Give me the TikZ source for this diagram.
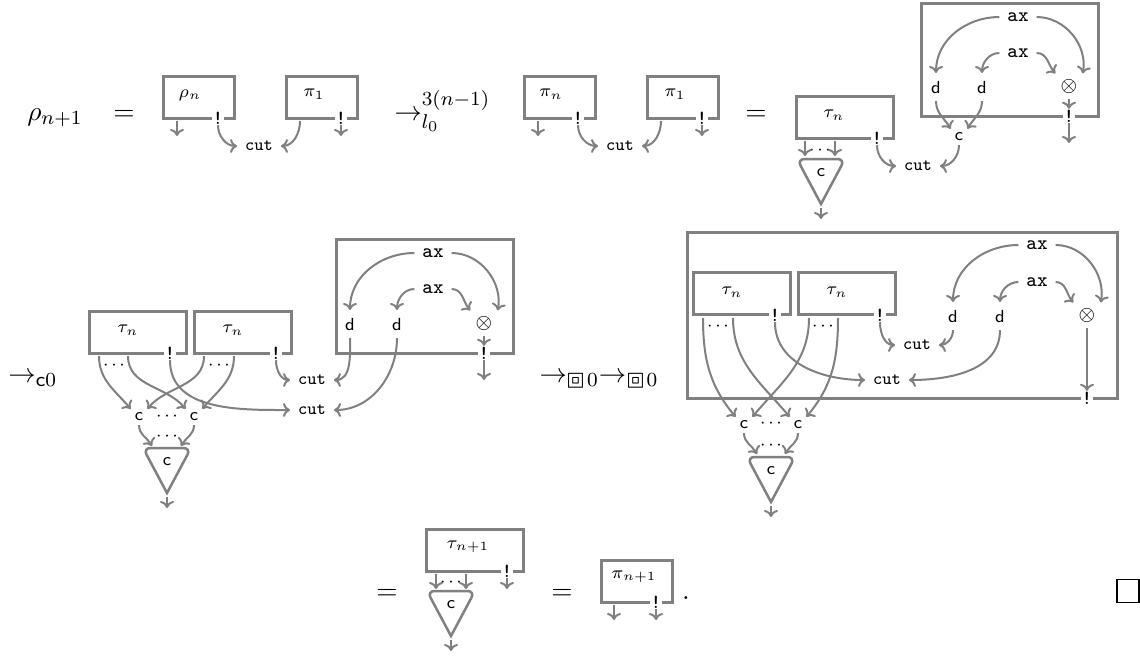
\documentclass[tikz,border=0pt]{standalone}
\usepackage{amsmath}
\usepackage{amssymb}
\usepackage{stmaryrd}
\usepackage{tikz}
\usetikzlibrary{arrows.meta,calc,shapes.geometric}
\tikzset{
  boxnet/.style   = {draw=gray, line width=1.2pt, inner sep=0pt},
  netsm/.style    = {boxnet, minimum width=28.4pt, minimum height=16.8pt},
  netlg/.style    = {boxnet, minimum width=38.8pt, minimum height=16.8pt},
  wire/.style     = {draw=gray, line width=0.8pt, -{To[length=2.8pt,width=5.6pt]}},
  lbl/.style      = {font=\scriptsize, inner sep=3pt},
  axn/.style      = {font=\footnotesize, inner sep=3pt},
  tenn/.style     = {font=\footnotesize, inner sep=2pt},
  contn/.style    = {font=\scriptsize, inner sep=1.5pt},
  lam/.style      = {font=\scriptsize, inner sep=0pt},
  bang/.style     = {font=\footnotesize\ttfamily, fill=white, inner sep=0.2pt},
  dotsn/.style    = {font=\scriptsize, inner sep=0pt},
  big/.style      = {inner sep=0pt, anchor=base, font=\fontsize{10.95}{13}\selectfont},
}
\newcommand{\dotrow}{$\cdot\kern0.86pt{\cdot}\kern0.86pt\cdot$}
\newcommand{\boxm}{\mathord{\scalebox{1.15}{$\scriptstyle\boxbox$}}\mkern1mu}
\begin{document}
\begin{tikzpicture}[x=0.4pt,y=-0.4pt]
    \useasboundingbox (0,0) rectangle (1140,656);
    % -- First line --------------------------------------------------
    \node[big] (rhonext) at (55,120) {$\rho_{n+1}$};
    \node[big] (eqa) at (124,120) {$=$};
    \node[netsm] (rho) at (198.5,97) {};
    \node[lam] (rholbl) at (190,95) {$\rho_n$};
    \node[bang] (rhobang) at (218,118) {!};
    \node[netsm] (pione) at (322,97) {};
    \node[lam] (pionelbl) at (314,94) {$\pi_1$};
    \node[bang] (pionebang) at (341,118) {!};
    \node[lbl] (cuta) at (259,146) {\texttt{cut}};
    \coordinate (rhoa) at (177,121);
    \coordinate (rhob) at (177,136);
    \coordinate (pionea) at (300,121);
    \coordinate (pioneb) at (341,136);
    \draw[wire] (rhoa) -- (rhob);
    \draw[wire] (rhobang) to[out=-90,in=180] (cuta);
    \draw[wire] (pionea) to[out=-90,in=0] (cuta);
    \draw[wire] (pionebang) -- (pioneb);
    \node[big,anchor=base west] (stepa) at (394,120) {$\rightarrow_{l_0}^{3(n-1)}$};
    \node[netsm] (pin) at (559.5,97) {};
    \node[lam] (pinlbl) at (551,94) {$\pi_n$};
    \node[bang] (pinbang) at (578,118) {!};
    \node[netsm] (pitwo) at (683,97) {};
    \node[lam] (pitwolbl) at (675,94) {$\pi_1$};
    \node[bang] (pitwobang) at (702,118) {!};
    \node[lbl] (cutb) at (620,146) {\texttt{cut}};
    \coordinate (pina) at (538,121);
    \coordinate (pinb) at (538,136);
    \coordinate (pitwoa) at (661,121);
    \coordinate (pitwob) at (702,136);
    \draw[wire] (pina) -- (pinb);
    \draw[wire] (pinbang) to[out=-90,in=180] (cutb);
    \draw[wire] (pitwoa) to[out=-90,in=0] (cutb);
    \draw[wire] (pitwobang) -- (pitwob);
    \node[big] (eqb) at (756,120) {$=$};
    % -- Unfolded net ------------------------------------------------
    \node[netlg] (taua) at (844.5,117) {};
    \node[lam] (taualbl) at (834,115) {$\tau_n$};
    \node[bang] (tauabang) at (877,138) {!};
    \node[dotsn] (tauadots) at (820,150) {\dotrow};
    \node[boxnet, minimum width=70.8pt, minimum height=45.2pt] (boxa) at (1009.5,59.5) {};
    \node[axn] (axa) at (1018,17) {\texttt{ax}};
    \node[axn] (axb) at (1018,53) {\texttt{ax}};
    \node[lbl] (da) at (936,87) {$\mathsf{d}$};
    \node[lbl] (db) at (982,87) {$\mathsf{d}$};
    \node[tenn] (tena) at (1069,86) {$\otimes$};
    \node[bang] (boxabang) at (1069,116) {!};
    \node[contn] (conta) at (959,137) {$\mathsf{c}$};
    \node[lbl] (cutc) at (918,166) {\texttt{cut}};
    \coordinate (tauaa) at (805,141);
    \coordinate (tauab) at (805,156);
    \coordinate (tauac) at (835,141);
    \coordinate (tauad) at (835,156);
    \coordinate (boxaout) at (1069,143);
    \draw[wire] (tauaa) -- (tauab);
    \draw[wire] (tauac) -- (tauad);
    \draw[wire] (tauabang) to[out=-90,in=180] (cutc);
    \draw[wire] (conta) to[out=-90,in=0] (cutc);
    \draw[wire] (axa) to[out=180,in=90] (da);
    \draw[wire] (axa) to[out=0,in=80] (tena.north east);
    \draw[wire] (axb) to[out=180,in=90] (db);
    \draw[wire] (axb) to[out=0,in=130] (tena.north west);
    \draw[wire] (da) to[out=-90,in=120] (conta.north west);
    \draw[wire] (db) to[out=-90,in=60] (conta.north east);
    \draw[wire] (tena) -- (boxabang);
    \draw[wire] (boxabang) -- (boxaout);
    % -- Triangles ---------------------------------------------------
    \foreach \i/\x/\y in {a/821/159, b/167/448, c/771/457, d/451/591}{
        \draw[draw=gray, line width=1pt] (\x,\y+45) [rounded corners=3pt] -- (\x-24,\y) -- (\x+24,\y) [sharp corners] -- cycle;
        \node[lam] (tri\i) at (\x,\y+14) {$\mathsf{c}$};
        \coordinate (tri\i top) at (\x,\y+49);
        \coordinate (tri\i end) at (\x,\y+60);
        \draw[wire] (tri\i top) -- (tri\i end);
    }
    % -- Second line, left -------------------------------------------
    \node[big,anchor=base west] (stepb) at (8,382) {$\rightarrow_{\mathsf{c}0}$};
    \node[netlg] (taub) at (137.5,332) {};
    \node[lam] (taublbl) at (128,330) {$\tau_n$};
    \node[bang] (taubbang) at (170,353) {!};
    \node[dotsn] (taubdots) at (114,365) {\dotrow};
    \node[netlg] (tauc) at (243,332) {};
    \node[lam] (tauclbl) at (233,330) {$\tau_n$};
    \node[bang] (taucbang) at (276,353) {!};
    \node[dotsn] (taucdots) at (219,365) {\dotrow};
    \node[boxnet, minimum width=70.8pt, minimum height=45.6pt] (boxb) at (424.5,296) {};
    \node[axn] (axc) at (433,253) {\texttt{ax}};
    \node[axn] (axd) at (433,289) {\texttt{ax}};
    \node[lbl] (dc) at (350,324) {$\mathsf{d}$};
    \node[lbl] (dd) at (397,324) {$\mathsf{d}$};
    \node[tenn] (tenb) at (484,323) {$\otimes$};
    \node[bang] (boxbbang) at (484,353) {!};
    \node[lbl] (cutd) at (312,380) {\texttt{cut}};
    \node[lbl] (cute) at (312,410) {\texttt{cut}};
    \node[contn] (contb) at (139,417) {$\mathsf{c}$};
    \node[contn] (contc) at (194,417) {$\mathsf{c}$};
    \node[dotsn] (contbdots) at (167,416) {\dotrow};
    \node[dotsn] (tribdots) at (167,436) {\dotrow};
    \coordinate (tauba) at (99,356);
    \coordinate (taubb) at (128,356);
    \coordinate (tauca) at (204,356);
    \coordinate (taucb) at (234,356);
    \coordinate (boxbout) at (484,380);
    \coordinate (tribl) at (152,446);
    \coordinate (tribr) at (181,446);
    \draw[wire] (tauba) to[out=-90,in=130] (contb.north west);
    \draw[wire] (taubb) to[out=-90,in=130] (contc.north west);
    \draw[wire] (tauca) to[out=-90,in=50] (contb.north east);
    \draw[wire] (taucb) to[out=-90,in=50] (contc.north east);
    \draw[wire] (taubbang) to[out=-90,in=180] (cute);
    \draw[wire] (taucbang) to[out=-90,in=180] (cutd);
    \draw[wire] (dc) to[out=-90,in=0] (cutd);
    \draw[wire] (dd) to[out=-90,in=0] (cute);
    \draw[wire] (axc) to[out=180,in=90] (dc);
    \draw[wire] (axc) to[out=0,in=80] (tenb.north east);
    \draw[wire] (axd) to[out=180,in=90] (dd);
    \draw[wire] (axd) to[out=0,in=130] (tenb.north west);
    \draw[wire] (tenb) -- (boxbbang);
    \draw[wire] (boxbbang) -- (boxbout);
    \draw[wire] (contb) to[out=-90,in=120] (tribl);
    \draw[wire] (contc) to[out=-90,in=60] (tribr);
    % -- Second line, right ------------------------------------------
    \node[big,anchor=base west] (stepc) at (539,382) {$\rightarrow_{\boxm0}\rightarrow_{\boxm0}$};
    \node[boxnet, minimum width=172pt, minimum height=66.4pt] (boxc) at (902,315) {};
    \node[netlg] (taud) at (741.5,293.5) {};
    \node[lam] (taudlbl) at (732,292) {$\tau_n$};
    \node[bang] (taudbang) at (775,315) {!};
    \node[dotsn] (tauddots) at (718,326) {\dotrow};
    \node[netlg] (taue) at (847,293.5) {};
    \node[lam] (tauelbl) at (837,292) {$\tau_n$};
    \node[bang] (tauebang) at (880,315) {!};
    \node[dotsn] (tauedots) at (823,326) {\dotrow};
    \node[axn] (axe) at (1037,245) {\texttt{ax}};
    \node[axn] (axf) at (1037,282) {\texttt{ax}};
    \node[lbl] (de) at (953,316) {$\mathsf{d}$};
    \node[lbl] (df) at (1000,316) {$\mathsf{d}$};
    \node[tenn] (tenc) at (1087,315) {$\otimes$};
    \node[bang] (boxcbang) at (1087,398) {!};
    \node[lbl] (cutf) at (917,345) {\texttt{cut}};
    \node[lbl] (cutg) at (887,380) {\texttt{cut}};
    \node[contn] (contd) at (744,425) {$\mathsf{c}$};
    \node[contn] (conte) at (798,425) {$\mathsf{c}$};
    \node[dotsn] (contddots) at (771,423) {\dotrow};
    \node[dotsn] (tricdots) at (771,445) {\dotrow};
    \coordinate (tauda) at (703,318);
    \coordinate (taudb) at (733,318);
    \coordinate (tauea) at (809,318);
    \coordinate (taueb) at (838,318);
    \coordinate (tricl) at (757,454);
    \coordinate (tricr) at (785,454);
    \draw[wire] (tauda) to[out=-90,in=130] (contd.north west);
    \draw[wire] (taudb) to[out=-90,in=130] (conte.north west);
    \draw[wire] (tauea) to[out=-90,in=50] (contd.north east);
    \draw[wire] (taueb) to[out=-90,in=50] (conte.north east);
    \draw[wire] (taudbang) to[out=-90,in=180] (cutg);
    \draw[wire] (tauebang) to[out=-90,in=180] (cutf);
    \draw[wire] (de) to[out=-90,in=0] (cutf);
    \draw[wire] (df) to[out=-90,in=0] (cutg);
    \draw[wire] (axe) to[out=180,in=90] (de);
    \draw[wire] (axe) to[out=0,in=80] (tenc.north east);
    \draw[wire] (axf) to[out=180,in=90] (df);
    \draw[wire] (axf) to[out=0,in=130] (tenc.north west);
    \draw[wire] (tenc) -- (boxcbang);
    \draw[wire] (contd) to[out=-90,in=120] (tricl);
    \draw[wire] (conte) to[out=-90,in=60] (tricr);
    % -- Last line ---------------------------------------------------
    \node[big] (eqc) at (387,599) {$=$};
    \node[netlg] (tauf) at (474.5,550) {};
    \node[lam] (tauflbl) at (468,547) {$\tau_{n+1}$};
    \node[bang] (taufbang) at (507,571) {!};
    \node[dotsn] (taufdots) at (451,582) {\dotrow};
    \coordinate (taufa) at (436,574);
    \coordinate (taufb) at (436,589);
    \coordinate (taufc) at (466,574);
    \coordinate (taufd) at (466,589);
    \coordinate (taufe) at (507,589);
    \draw[wire] (taufa) -- (taufb);
    \draw[wire] (taufc) -- (taufd);
    \draw[wire] (taufbang) -- (taufe);
    \node[big] (eqd) at (562,599) {$=$};
    \node[netsm] (pinext) at (636.5,581.5) {};
    \node[lam] (pinextlbl) at (634,577) {$\pi_{n+1}$};
    \node[bang] (pinextbang) at (656,602) {!};
    \coordinate (pinexta) at (614,605);
    \coordinate (pinextb) at (614,620);
    \coordinate (pinextc) at (656,620);
    \draw[wire] (pinexta) -- (pinextb);
    \draw[wire] (pinextbang) -- (pinextc);
    \node[big] (stop) at (686,599) {.};
    \node[draw, minimum width=8.8pt, minimum height=9.2pt, inner sep=0pt, line width=0.6pt] (qed) at (1128,591) {};
\end{tikzpicture}
\end{document}
